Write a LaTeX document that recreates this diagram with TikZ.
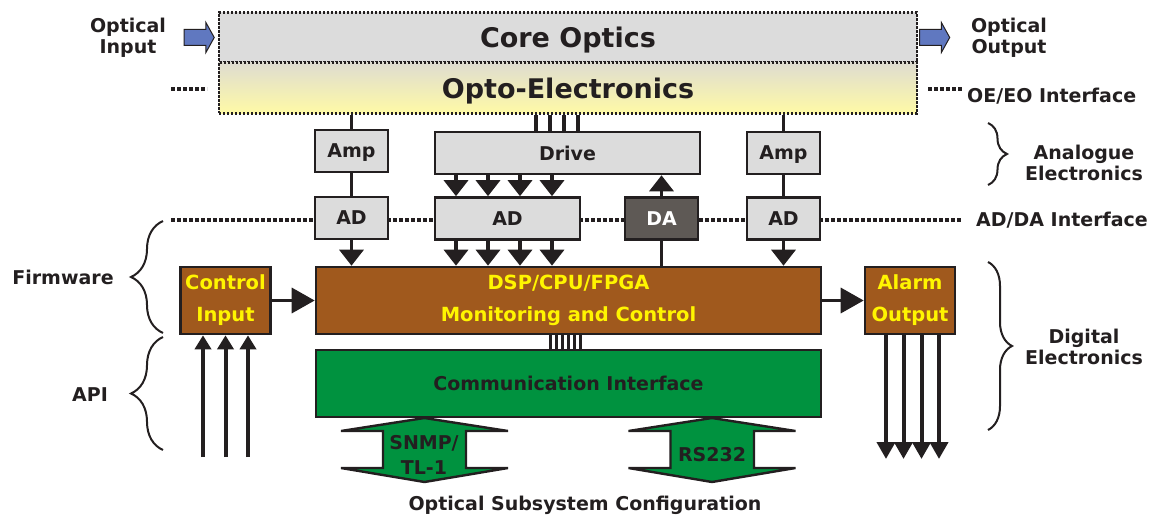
\documentclass[tikz,border=0pt]{standalone}
\usepackage{fontspec}
\setmainfont{DejaVu Sans}
\usepackage{tikz}
\usetikzlibrary{arrows.meta,shapes.arrows,decorations.pathreplacing}
\definecolor{ink}{HTML}{231F20}
\definecolor{boxgray}{HTML}{DCDCDC}
\definecolor{rust}{HTML}{A0591D}
\definecolor{signal}{HTML}{FFF500}
\definecolor{commgreen}{HTML}{00923F}
\definecolor{dagray}{HTML}{5E5955}
\definecolor{lightblue}{HTML}{6078C0}
\definecolor{optotop}{HTML}{DEDCD0}
\definecolor{optobot}{HTML}{FFFAA6}
\newcommand{\boxfont}{\bfseries\fontsize{19}{21}\selectfont}
\newcommand{\logicfont}{\bfseries\fontsize{19.5}{32}\selectfont}
\newcommand{\bigfont}{\bfseries\fontsize{27}{30}\selectfont}
\tikzstyle{layer} = [rectangle, draw=ink, line width=2.4pt, dash pattern=on 2.4pt off 1.6pt, minimum width=698pt, minimum height=50pt, inner sep=0pt, font=\bigfont, text=ink, text depth=0pt]
\tikzstyle{block} = [rectangle, draw=ink, line width=2.6pt, fill=boxgray, text=ink, font=\boxfont, inner sep=0pt, minimum height=42pt, text depth=0pt]
\tikzstyle{logic} = [block, fill=rust, text=signal, font=\logicfont, align=center, minimum height=67pt, text depth=]
\tikzstyle{sidelabel} = [text=ink, font=\boxfont, align=center, inner sep=0pt]
\tikzstyle{wire} = [draw=ink, line width=3.5pt]
\tikzstyle{line} = [wire, -{Triangle[width=24pt,length=16pt]}]
\tikzstyle{feed} = [wire, -{Triangle[width=25pt,length=23pt]}]
\tikzstyle{pin} = [wire, line width=4pt, -{Triangle[width=16pt,length=14pt]}]
\tikzstyle{pout} = [wire, line width=4pt, -{Triangle[width=18pt,length=17pt]}]
\tikzstyle{dotline} = [draw=ink, line width=4pt, dash pattern=on 4pt off 2pt]
\tikzstyle{lightarrow} = [single arrow, draw=ink, line width=1pt, fill=lightblue, minimum height=30pt, inner xsep=0pt, inner ysep=7.5pt, single arrow head extend=7pt, single arrow tip angle=122]
\tikzstyle{brace} = [draw=ink, line width=2pt, decorate]
\tikzstyle{commarrow} = [draw=ink, line width=2.4pt, fill=commgreen]

\begin{document}
\begin{tikzpicture}[x=1pt, y=-1pt]
    \useasboundingbox (0,0) rectangle (1172,516);

    % interfaces
    \draw[dotline] (171,89) -- (207,89);
    \draw[dotline] (928,89) -- (963,89);
    \draw[dotline] (171,220) -- (962,220);

    % optical layers
    \node [layer, fill=boxgray] (core) at (568,37.5) {Core Optics};
    \node [layer, top color=optotop, bottom color=optobot, minimum height=51pt] (opto) at (568,88) {Opto-Electronics};
    \node [lightarrow, anchor=tip] (inarrow) at ([xshift=-3pt]core.west) {};
    \node [lightarrow, anchor=tail] (outarrow) at ([xshift=1pt]core.east) {};

    % analogue and converter blocks
    \node [block, minimum width=73pt] (ampL) at (351.5,151) {Amp};
    \node [block, minimum width=73pt] (adL) at (351.5,218) {AD};
    \node [block, minimum width=265pt] (drive) at (567.5,153) {Drive};
    \node [block, minimum width=145pt] (adM) at (507.5,218.5) {AD};
    \node [block, fill=dagray, text=white, minimum width=73pt] (da) at (661.5,218.5) {DA};
    \node [block, minimum width=73pt] (ampR) at (783.5,153) {Amp};
    \node [block, minimum width=73pt] (adR) at (783.5,218.5) {AD};

    % digital blocks
    \node [logic, minimum width=505pt] (dsp) at (568.5,300.5) {DSP/CPU/FPGA\\Monitoring and Control};
    \node [logic, minimum width=90pt] (ctrl) at (225.5,300.5) {Control\\Input};
    \node [logic, minimum width=90pt] (alarm) at (910,300.5) {Alarm\\Output};
    \node [block, fill=commgreen, minimum width=505pt, minimum height=67pt] (comm) at (568.5,383.5) {Communication Interface};

    % links
    \path [wire] (opto.south -| ampL) -- (ampL);
    \path [wire] (ampL) -- (adL);
    \path [line] (adL) -- (adL |- dsp.north);
    \path [wire] (opto.south -| ampR) -- (ampR);
    \path [wire] (ampR) -- (adR);
    \path [line] (adR) -- (adR |- dsp.north);
    \foreach \x in {536,550,564,578}
        \path [wire] (\x,0 |- opto.south) -- (\x,0 |- drive.north);
    \foreach \x in {456,488,520,552} {
        \path [line] (\x,0 |- drive.south) -- (\x,0 |- adM.north);
        \path [line] (\x,0 |- adM.south) -- (\x,0 |- dsp.north);
    }
    \path [wire] (da |- dsp.north) -- (da.south);
    \path [line] (da.north) -- (da |- drive.south);
    \path [feed] (ctrl.east) -- (dsp.west);
    \path [feed] (dsp.east) -- (alarm.west);
    \foreach \x in {550,556,...,580}
        \path [wire, line width=3pt] (\x,0 |- dsp.south) -- (\x,0 |- comm.north);
    \foreach \x in {203,225.5,248}
        \path [pin] (\x,457) -- (\x,0 |- ctrl.south);
    \foreach \x in {886,903.5,921.5,939}
        \path [pout] (\x,0 |- alarm.south) -- (\x,459);

    % configuration ports
    \draw [commarrow] (424.5,418) -- (508,431) -- (466,431) -- (466,468) -- (508,468) -- (424.5,482)
        -- (341,468) -- (383,468) -- (383,431) -- (341,431) -- cycle;
    \node [sidelabel, font=\bfseries\fontsize{19}{25}\selectfont] (snmp) at (424,455) {SNMP/\\TL-1};
    \draw [commarrow] (712,418) -- (795.5,431) -- (754,431) -- (754,468) -- (795.5,468) -- (712,482)
        -- (628.5,468) -- (670.5,468) -- (670.5,431) -- (628.5,431) -- cycle;
    \node [sidelabel] (rs) at (712,455) {RS232};

    % side labels
    \node [sidelabel] (optin) at (128,38) {Optical\\Input};
    \node [sidelabel] (optout) at (1009,38) {Optical\\Output};
    \node [sidelabel, anchor=west] (oeif) at (967,96) {OE/EO Interface};
    \node [sidelabel] (analog) at (1084,163) {Analogue\\Electronics};
    \node [sidelabel, anchor=west] (adif) at (976,220) {AD/DA Interface};
    \node [sidelabel] (firm) at (63,277) {Firmware};
    \node [sidelabel] (api) at (90,395) {API};
    \node [sidelabel] (digital) at (1084,347) {Digital\\Electronics};
    \node [sidelabel] (config) at (585,505) {Optical Subsystem Configuration};

    % braces
    \draw [brace, decoration={brace, amplitude=19pt}] (988,123) -- (988,185);
    \draw [brace, decoration={brace, amplitude=24pt}] (988,262) -- (988,430);
    \draw [brace, decoration={brace, amplitude=32pt}] (163,333) -- (163,221);
    \draw [brace, decoration={brace, amplitude=32pt}] (163,450) -- (163,337);
\end{tikzpicture}
\end{document}
